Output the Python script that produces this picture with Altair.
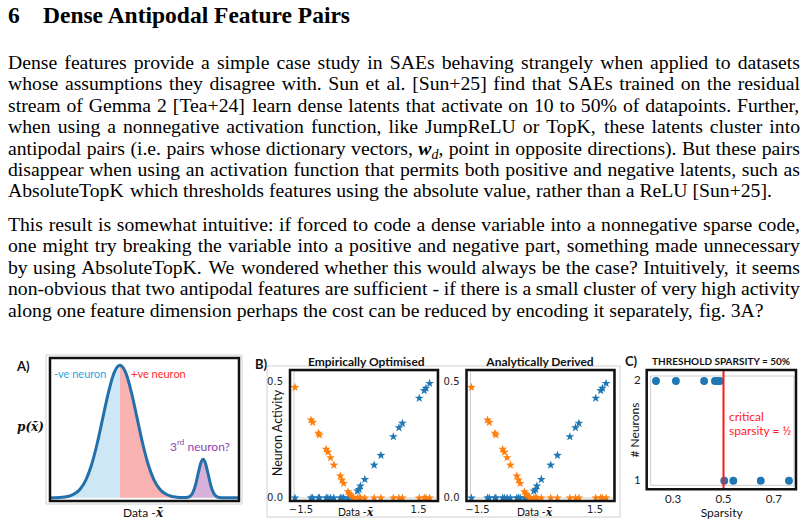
import altair as alt
import pandas as pd

W, H = 807, 526

# ======================= DATA =======================
SECTION_NUMBER = "6"
SECTION_TITLE = "Dense Antipodal Feature Pairs"

PARA1_LINES = [
    "Dense features provide a simple case study in SAEs behaving strangely when applied to datasets",
    "whose assumptions they disagree with. Sun et al. [Sun+25] find that SAEs trained on the residual",
    "stream of Gemma 2 [Tea+24] learn dense latents that activate on 10 to 50% of datapoints. Further,",
    "when using a nonnegative activation function, like JumpReLU or TopK, these latents cluster into",
    "antipodal pairs (i.e. pairs whose dictionary vectors, w_d, point in opposite directions). But these pairs",
    "disappear when using an activation function that permits both positive and negative latents, such as",
    "AbsoluteTopK which thresholds features using the absolute value, rather than a ReLU [Sun+25].",
]
PARA2_LINES = [
    "This result is somewhat intuitive: if forced to code a dense variable into a nonnegative sparse code,",
    "one might try breaking the variable into a positive and negative part, something made unnecessary",
    "by using AbsoluteTopK. We wondered whether this would always be the case? Intuitively, it seems",
    "non-obvious that two antipodal features are sufficient - if there is a small cluster of very high activity",
    "along one feature dimension perhaps the cost can be reduced by encoding it separately, fig. 3A?",
]

# Panel A: sketched density p(x) along the data axis (0-100 units)
A_X = [0, 5, 10, 13, 16, 19, 22, 25, 28, 31, 34, 37, 40, 43, 46, 49, 52, 55, 58, 61,
       64, 67, 70, 73, 75, 77, 78.5, 80, 81, 82, 83.5, 85, 87, 89, 92, 96, 100]
A_Y = [0, 0.002, 0.011, 0.029, 0.066, 0.135, 0.249, 0.411, 0.607, 0.80,
       0.946, 1.0, 0.946, 0.80, 0.607, 0.411, 0.249, 0.135, 0.066, 0.029,
       0.011, 0.004, 0.001, 0.004, 0.025, 0.097, 0.189, 0.271, 0.29, 0.271,
       0.189, 0.097, 0.025, 0.004, 0, 0, 0]

# Panel B: neuron activities (orange = negative neuron, blue = positive neuron)
B_X = [-1.654, -1.243, -1.20, -1.054, -1.028, -0.857, -0.814, -0.745, -0.66, -0.497,
       -0.454, -0.411, -0.30, -0.257, -0.214, -0.171,
       -0.06, -0.017, 0.017, 0.129, 0.368, 0.54, 0.857, 1.0, 1.088, 1.517, 1.645, 1.688, 1.782]
B_NEG = [0.477, 0.336, 0.326, 0.279, 0.272, 0.21, 0.198, 0.174, 0.142, 0.095,
         0.078, 0.063, 0.027, 0.017, 0.009, 0.001,
         0, 0, 0, 0, 0, 0, 0, 0, 0, 0, 0, 0, 0]
B_POS = [0, 0, 0, 0, 0, 0, 0, 0, 0, 0,
         0, 0, 0, 0, 0, 0,
         0.03, 0.037, 0.052, 0.08, 0.142, 0.184, 0.264, 0.303, 0.322, 0.43, 0.463, 0.473, 0.494]
B2_X = list(B_X)
B2_NEG = list(B_NEG)
B2_POS = list(B_POS)
B_XTICKS, B_XTICK_LABELS = [-1.5, 1.5], ["\u22121.5", "1.5"]
B_YTICKS, B_YTICK_LABELS = [0, 0.5], ["0.0", "0.5"]

# Panel C: number of neurons vs sparsity
C_SPARSITY = [0.232, 0.311, 0.423, 0.466, 0.476, 0.486, 0.503, 0.539, 0.648, 0.760]
C_NEURONS = [2, 2, 2, 2, 2, 2, 1, 1, 1, 1]
C_CRITICAL = 0.5
C_XTICKS, C_XTICK_LABELS = [0.3, 0.5, 0.7], ["0.3", "0.5", "0.7"]
C_YTICKS, C_YTICK_LABELS = [1, 2], ["1", "2"]

# ======================= HELPERS =======================
DUMMY = pd.DataFrame({"k": [0]})
STAR = ("M0,-1L0.235,-0.324L0.951,-0.309L0.38,0.124L0.588,0.809L0,0.4"
        "L-0.588,0.809L-0.38,0.124L-0.951,-0.309L-0.235,-0.324Z")
SANS = "Lato"
MATH = "DejaVu Serif"
TICK_FONT = "DejaVu Sans"


def label(text, x, y, size=12, font=SANS, weight="normal", color="#111",
          align="left", angle=None, style=None, baseline="middle"):
    kw = dict(text=text, fontSize=size, font=font, fontWeight=weight,
              color=color, align=align, baseline=baseline)
    if angle is not None:
        kw["angle"] = angle
    if style:
        kw["fontStyle"] = style
    return alt.Chart(DUMMY).mark_text(**kw).encode(x=alt.value(x), y=alt.value(y))


def box(x1, y1, x2, y2, color="#d0d0d0", width=1):
    return alt.Chart(DUMMY).mark_rect(filled=False, stroke=color, strokeWidth=width).encode(
        x=alt.value(x1), x2=alt.value(x2), y=alt.value(y1), y2=alt.value(y2))


# Times / Liberation Serif advance widths (1/1000 em), used to justify the body text
TIMES = {" ": 250, "!": 333, '"': 408, "#": 500, "$": 500, "%": 833, "&": 778, "'": 180,
         "(": 333, ")": 333, "*": 500, "+": 564, ",": 250, "-": 333, ".": 250, "/": 278,
         ":": 278, ";": 278, "<": 564, "=": 564, ">": 564, "?": 444, "@": 921,
         "A": 722, "B": 667, "C": 667, "D": 722, "E": 611, "F": 556, "G": 722, "H": 722,
         "I": 333, "J": 389, "K": 722, "L": 611, "M": 889, "N": 722, "O": 722, "P": 556,
         "Q": 722, "R": 667, "S": 556, "T": 611, "U": 722, "V": 722, "W": 944, "X": 722,
         "Y": 722, "Z": 611, "[": 333, "\\": 278, "]": 333, "_": 500,
         "a": 444, "b": 500, "c": 444, "d": 500, "e": 444, "f": 333, "g": 500, "h": 500,
         "i": 278, "j": 278, "k": 500, "l": 278, "m": 778, "n": 500, "o": 500, "p": 500,
         "q": 500, "r": 333, "s": 389, "t": 278, "u": 500, "v": 500, "w": 722, "x": 500,
         "y": 500, "z": 444}
for _d in "0123456789":
    TIMES[_d] = 500


def tw(s, size):
    return sum(TIMES.get(c, 500) for c in s) * size / 1000.0


# ======================= PAGE TEXT =======================
BODY_FONT, BODY_SIZE = "Liberation Serif", 19.7
SUB_SIZE = 14
BASE0, PITCH = 69.0, 21.4
PARA2_ROW0 = 7.57
LEFT_X, RIGHT_X = 8, 800

tokens = []  # text, px, row, kind


def word_width(w):
    if w.startswith("w_d"):
        return 667 * BODY_SIZE / 1000 + 500 * SUB_SIZE / 1000 + tw(w[3:], BODY_SIZE)
    return tw(w, BODY_SIZE)


def place_line(s, row, justify):
    words = s.split(" ")
    widths = [word_width(w) for w in words]
    if justify and len(words) > 1:
        gap = (RIGHT_X - LEFT_X - sum(widths)) / (len(words) - 1)
    else:
        gap = tw(" ", BODY_SIZE)
    x = LEFT_X
    for w, wd in zip(words, widths):
        if w.startswith("w_d"):
            tokens.append({"text": "w", "px": x, "row": row, "kind": "bi"})
            x2 = x + 667 * BODY_SIZE / 1000
            tokens.append({"text": "d", "px": x2, "row": row + 4.5 / PITCH, "kind": "sub"})
            x3 = x2 + 500 * SUB_SIZE / 1000
            tokens.append({"text": w[3:], "px": x3, "row": row, "kind": "n"})
        else:
            tokens.append({"text": w, "px": x, "row": row, "kind": "n"})
        x += wd + gap


for i, s in enumerate(PARA1_LINES):
    place_line(s, i, i < len(PARA1_LINES) - 1)
for i, s in enumerate(PARA2_LINES):
    place_line(s, PARA2_ROW0 + i, i < len(PARA2_LINES) - 1)

df_tok = pd.DataFrame(tokens)
xs_page = alt.Scale(domain=[0, W], range=[0, W], nice=False, zero=False)
ys_text = alt.Scale(domain=[0, 1], range=[BASE0, BASE0 + PITCH], nice=False, zero=False)
tok_base = alt.Chart(df_tok).encode(
    x=alt.X("px:Q", scale=xs_page, axis=None),
    y=alt.Y("row:Q", scale=ys_text, axis=None),
    text="text:N")
page = alt.layer(
    tok_base.transform_filter("datum.kind == 'n'").mark_text(
        align="left", baseline="alphabetic", font=BODY_FONT, fontSize=BODY_SIZE, color="#000"),
    tok_base.transform_filter("datum.kind == 'bi'").mark_text(
        align="left", baseline="alphabetic", font=BODY_FONT, fontSize=BODY_SIZE, color="#000",
        fontWeight="bold", fontStyle="italic"),
    tok_base.transform_filter("datum.kind == 'sub'").mark_text(
        align="left", baseline="alphabetic", font=BODY_FONT, fontSize=SUB_SIZE, color="#000",
        fontStyle="italic"),
    label(SECTION_NUMBER, 8, 23, size=23.5, font=BODY_FONT, weight="bold", color="#000",
          baseline="alphabetic"),
    label(SECTION_TITLE, 43, 23, size=23.5, font=BODY_FONT, weight="bold", color="#000",
          baseline="alphabetic"),
)

# ======================= PANEL A =======================
A_XDOM, A_YDOM = [0, 100], [-0.025, 1.055]
sxA = alt.Scale(domain=A_XDOM, range=[50, 239], nice=False, zero=False)
syA = alt.Scale(domain=A_YDOM, range=[501, 358], nice=False, zero=False)
baseA = alt.Chart(pd.DataFrame({"x": A_X, "y": A_Y})).encode(
    x=alt.X("x:Q", scale=sxA, axis=None), y=alt.Y("y:Q", scale=syA, axis=None))
panelA = alt.layer(
    box(46, 355, 242, 504),
    baseA.transform_filter("datum.x <= 37").mark_area(color="#cde7f5", interpolate="monotone"),
    baseA.transform_filter("datum.x >= 37 && datum.x <= 73").mark_area(color="#f8b2b2", interpolate="monotone"),
    baseA.transform_filter("datum.x >= 73 && datum.x <= 92").mark_area(color="#d6b1d9", interpolate="monotone"),
    baseA.mark_line(color="#2370aa", strokeWidth=3, interpolate="monotone"),
    alt.Chart(DUMMY).mark_rect(filled=False, stroke="#111", strokeWidth=2.5).encode(
        x=alt.XDatum(A_XDOM[0], axis=None), x2=alt.X2Datum(A_XDOM[1]),
        y=alt.YDatum(A_YDOM[0], axis=None), y2=alt.Y2Datum(A_YDOM[1])),
    label("A)", 17, 366.5, size=13, weight="bold"),
    label("p(x\u0304)", 17, 427, size=12, font=MATH, weight="bold", style="italic"),
    label("-ve neuron", 54, 375, size=11, color="#2aa6de"),
    label("+ve neuron", 131, 375, size=11, color="#ff2a2a"),
    label("3", 170, 447, size=12, color="#8e44ad"),
    label("rd", 177, 443, size=8, color="#8e44ad"),
    label("neuron?", 187.5, 447, size=12, color="#8e44ad"),
    label("Data -", 123, 513, size=12),
    label("x\u0304", 156, 513, size=12, font=MATH, weight="bold", style="italic"),
)

# ======================= PANEL B =======================
B_XDOM, B_YDOM = [-1.78, 1.996], [-0.0129, 0.5517]
B_W, B_TOP, B_BOTTOM = 148, 370, 501


def panel_b(x_left, xs, neg, pos, title, title_cx, data_x, with_ytitle):
    sx = alt.Scale(domain=B_XDOM, range=[x_left, x_left + B_W], nice=False, zero=False)
    sy = alt.Scale(domain=B_YDOM, range=[B_BOTTOM, B_TOP], nice=False, zero=False)
    df = pd.DataFrame({"x": xs, "neg": neg, "pos": pos})
    star = dict(shape=STAR, filled=True, size=85, opacity=1, strokeWidth=0)
    xt = pd.DataFrame({"v": B_XTICKS, "t": B_XTICK_LABELS})
    yt = pd.DataFrame({"v": B_YTICKS, "t": B_YTICK_LABELS})
    layers = [
        box(x_left + 4, B_TOP + 1, x_left + B_W - 1, B_BOTTOM - 3, color="#cfcfcf"),
        alt.Chart(df).mark_point(color="#1f77b4", **star).encode(
            x=alt.X("x:Q", scale=sx, axis=None), y=alt.Y("pos:Q", scale=sy, axis=None)),
        alt.Chart(df).mark_point(color="#ff7f0e", **star).encode(
            x=alt.X("x:Q", scale=sx, axis=None), y=alt.Y("neg:Q", scale=sy, axis=None)),
        alt.Chart(DUMMY).mark_rect(filled=False, stroke="#111", strokeWidth=2.5).encode(
            x=alt.XDatum(B_XDOM[0], axis=None), x2=alt.X2Datum(B_XDOM[1]),
            y=alt.YDatum(B_YDOM[0], axis=None), y2=alt.Y2Datum(B_YDOM[1])),
        alt.Chart(xt).mark_text(font=TICK_FONT, fontSize=10, color="#222", align="center",
                                baseline="middle").encode(
            x=alt.X("v:Q", scale=sx, axis=None), y=alt.value(509.5), text="t:N"),
        alt.Chart(yt).mark_text(font=TICK_FONT, fontSize=10, color="#222", align="right",
                                baseline="middle").encode(
            x=alt.value(x_left - 7), y=alt.Y("v:Q", scale=sy, axis=None), text="t:N"),
        label(title, title_cx, 361.7, size=12, weight="bold", align="center"),
        label("Data -", data_x, 512.5, size=10.5),
        label("x\u0304", data_x + 29, 512.5, size=10.5, font=MATH, weight="bold", style="italic"),
    ]
    if with_ytitle:
        layers.append(label("Neuron Activity", 278.3, 433, size=12.5, align="center", angle=270))
        layers.append(label("B)", 255, 365, size=13, weight="bold"))
    return alt.layer(*layers)


panelB_box = box(267, 366, 620, 517)
panelB1 = panel_b(290, B_X, B_NEG, B_POS, "Empirically Optimised", 366.3, 338, True)
panelB2 = panel_b(466.5, B2_X, B2_NEG, B2_POS, "Analytically Derived", 540, 517, False)

# ======================= PANEL C =======================
C_XDOM, C_YDOM = [0.195, 0.788], [0.914, 2.110]
C_LEFT, C_RIGHT, C_TOP, C_BOTTOM = 646.7, 796, 370, 489.3
sxC = alt.Scale(domain=C_XDOM, range=[C_LEFT, C_RIGHT], nice=False, zero=False)
syC = alt.Scale(domain=C_YDOM, range=[C_BOTTOM, C_TOP], nice=False, zero=False)
panelC = alt.layer(
    box(C_LEFT + 4, C_TOP + 6, C_RIGHT - 2, C_BOTTOM - 4, color="#cfcfcf"),
    alt.Chart(pd.DataFrame({"s": C_SPARSITY, "n": C_NEURONS})).mark_circle(
        size=62, color="#1f77b4", opacity=1).encode(
        x=alt.X("s:Q", scale=sxC, axis=None), y=alt.Y("n:Q", scale=syC, axis=None)),
    alt.Chart(DUMMY).mark_rule(color="#ff1a1a", strokeWidth=2).encode(
        x=alt.XDatum(C_CRITICAL, axis=None), y=alt.YDatum(C_YDOM[0], axis=None),
        y2=alt.Y2Datum(C_YDOM[1])),
    alt.Chart(DUMMY).mark_rect(filled=False, stroke="#111", strokeWidth=2.5).encode(
        x=alt.XDatum(C_XDOM[0], axis=None), x2=alt.X2Datum(C_XDOM[1]),
        y=alt.YDatum(C_YDOM[0], axis=None), y2=alt.Y2Datum(C_YDOM[1])),
    alt.Chart(pd.DataFrame({"v": C_XTICKS, "t": C_XTICK_LABELS})).mark_text(
        font=SANS, fontSize=11.5, color="#222", align="center", baseline="middle").encode(
        x=alt.X("v:Q", scale=sxC, axis=None), y=alt.value(500), text="t:N"),
    alt.Chart(pd.DataFrame({"v": C_YTICKS, "t": C_YTICK_LABELS})).mark_text(
        font=SANS, fontSize=11.5, color="#222", align="right", baseline="middle").encode(
        x=alt.value(C_LEFT - 6), y=alt.Y("v:Q", scale=syC, axis=None), text="t:N"),
    label("C)", 625, 362, size=13, weight="bold"),
    label("THRESHOLD SPARSITY = 50%", 721, 361.7, size=10, weight="bold", align="center"),
    label("# Neurons", 635, 430, size=12, align="center", angle=270),
    label("Sparsity", 721.7, 512.7, size=12, align="center"),
    label("critical", 729, 417.3, size=12, color="#ff1a1a"),
    label("sparsity = \u00bd", 729, 430.7, size=12, color="#ff1a1a"),
)

chart = alt.layer(page, panelA, panelB_box, panelB1, panelB2, panelC).resolve_scale(
    x="independent", y="independent"
).properties(
    width=W, height=H, autosize=alt.AutoSizeParams(type="none"), padding=0, background="white"
).configure_view(stroke=None)

chart.save("out.html", embed_options={"renderer": "svg", "actions": False})
